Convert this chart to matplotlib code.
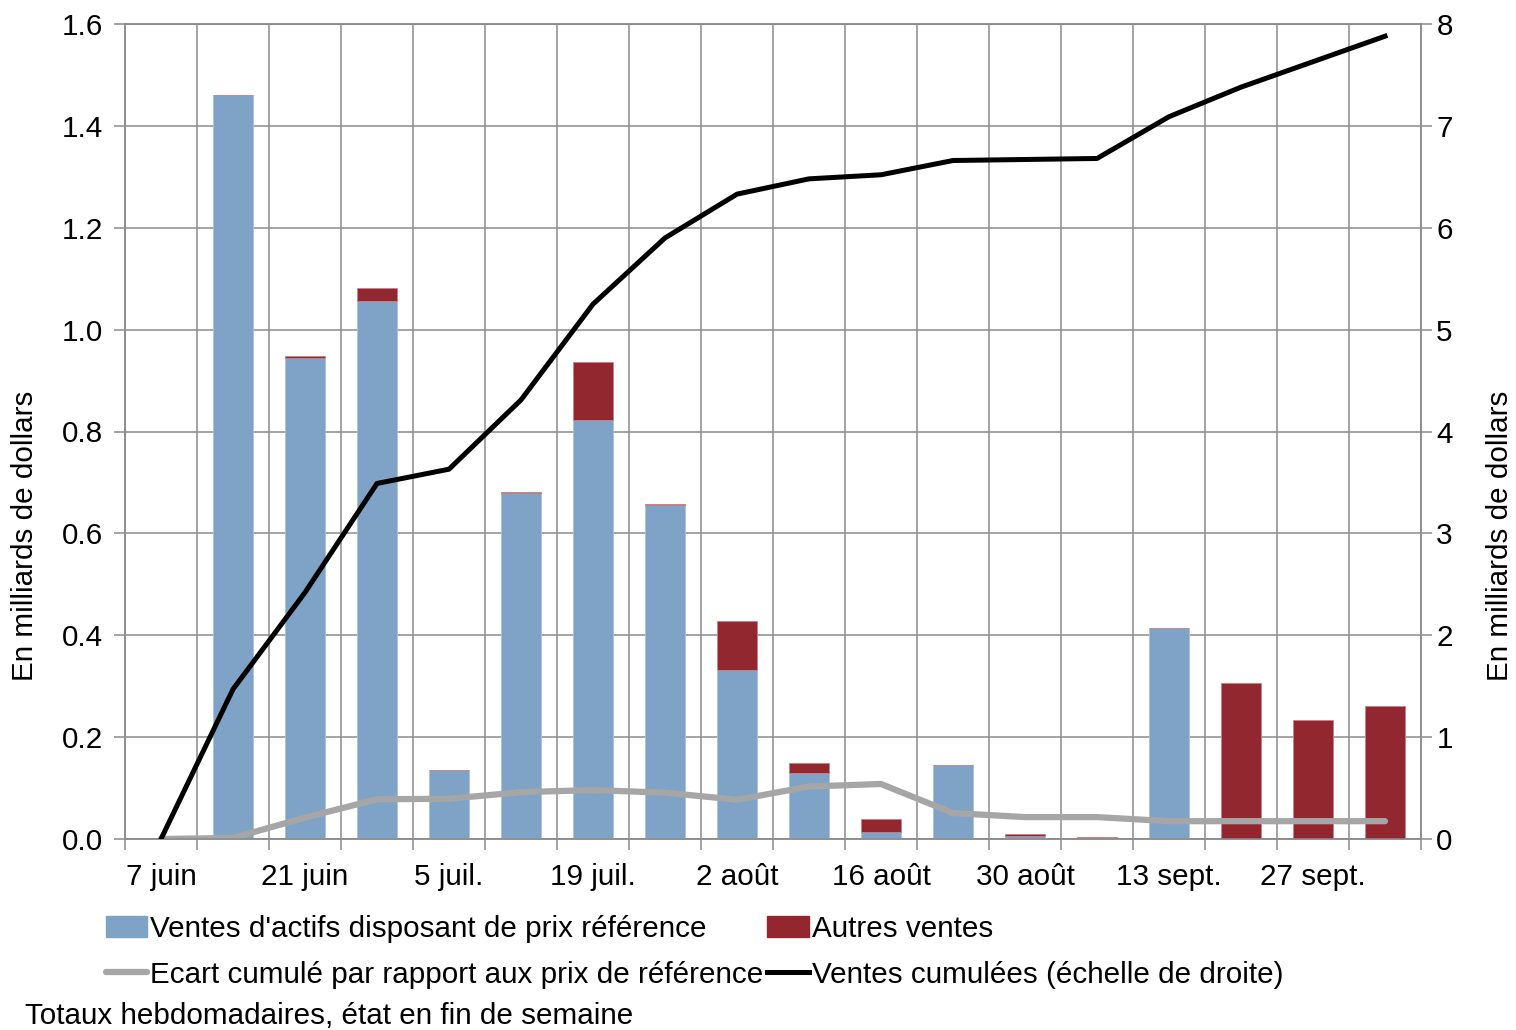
import matplotlib
matplotlib.use("Agg")
import matplotlib.pyplot as plt
from matplotlib.patches import Patch
from matplotlib.lines import Line2D
import numpy as np

plt.rcParams['font.family'] = ['Liberation Sans', 'DejaVu Sans']

weeks = ["7 juin", "14 juin", "21 juin", "28 juin", "5 juil.", "12 juil.", "19 juil.", "26 juil.",
         "2 août", "9 août", "16 août", "23 août", "30 août", "6 sept.", "13 sept.", "20 sept.",
         "27 sept.", "4 oct."]
ventes_ref = [0.0, 1.46, 0.945, 1.057, 0.135, 0.68, 0.822, 0.655, 0.331, 0.130, 0.013, 0.145,
              0.006, 0.001, 0.414, 0.0, 0.0, 0.0]
autres = [0.0, 0.0, 0.004, 0.025, 0.0, 0.002, 0.114, 0.002, 0.096, 0.019, 0.026, 0.0,
          0.003, 0.003, 0.0, 0.307, 0.234, 0.262]
ecart = [0.0, 0.002, 0.042, 0.078, 0.079, 0.092, 0.096, 0.091, 0.077, 0.103, 0.108, 0.051,
         0.043, 0.043, 0.035, 0.035, 0.035, 0.035]
cumul = [0.0, 1.47, 2.42, 3.49, 3.63, 4.31, 5.25, 5.90, 6.33, 6.48, 6.52, 6.66,
         6.67, 6.68, 7.09, 7.38, 7.63, 7.88]

blue = "#7EA3C6"
red = "#93272F"
gray_line = "#A6A6A6"
grid_c = "#8C8C8C"
fs = 21.3

fig = plt.figure(figsize=(15.16, 10.30), dpi=100)
ax = fig.add_axes([125/1516, 1 - 839/1030, (1421-125)/1516, (839-24)/1030])
ax2 = ax.twinx()

x = np.arange(len(weeks))
w = 0.55
ax.bar(x, ventes_ref, width=w, color=blue, zorder=3, edgecolor="#A9C2DB", linewidth=0.6)
ax.bar(x, autres, width=w, bottom=ventes_ref, color=red, zorder=3, edgecolor="#C98088", linewidth=0.6)
ax.plot(x, ecart, color=gray_line, lw=4.5, zorder=4, solid_capstyle='round')
ax2.plot(x, cumul, color="black", lw=3.6, zorder=5)

ax.set_xlim(-0.5, len(weeks) - 0.5)
ax.set_ylim(0, 1.6)
ax2.set_ylim(0, 8)
ax.set_yticks(np.arange(0, 1.61, 0.2))
ax.set_yticklabels([f"{v:.1f}" for v in np.arange(0, 1.61, 0.2)])
ax2.set_yticks(range(0, 9))

ax.set_xticks(x[::2])
ax.set_xticklabels(weeks[::2])
ax.set_xticks(np.arange(-0.5, len(weeks), 1), minor=True)
ax.tick_params(axis='x', which='major', length=0, labelsize=fs, pad=17, colors='black')
ax.tick_params(axis='x', which='minor', length=8, color=grid_c, width=1.1)
ax.tick_params(axis='y', length=8, color=grid_c, width=1.1, labelsize=fs, pad=8)
ax2.tick_params(axis='y', length=8, color=grid_c, width=1.1, labelsize=fs, pad=3)

ax.grid(True, which='major', axis='y', color=grid_c, lw=1.1, zorder=0)
ax.grid(True, which='minor', axis='x', color=grid_c, lw=1.1, zorder=0)
ax.set_axisbelow(True)
for a in (ax, ax2):
    for s in a.spines.values():
        s.set_color(grid_c)
        s.set_linewidth(1.1)

ax.set_ylabel("En milliards de dollars", fontsize=fs, va='center')
ax.yaxis.set_label_coords((25 - 125) / 1296, (839 - 536) / 815)
ax2.set_ylabel("En milliards de dollars", fontsize=fs, va='center', rotation=90)
ax2.yaxis.set_label_coords((1500 - 125) / 1296, (839 - 536) / 815)

handles = [Patch(color=blue), Line2D([], [], color=gray_line, lw=4.5, solid_capstyle='round'),
           Patch(color=red), Line2D([], [], color="black", lw=3.6)]
labels = ["Ventes d'actifs disposant de prix référence",
          "Ecart cumulé par rapport aux prix de référence",
          "Autres ventes", "Ventes cumulées (échelle de droite)"]
fig.legend(handles, labels, ncol=2, loc='upper left', bbox_to_anchor=(106/1516, 1 - 915/1030),
           frameon=False, fontsize=fs, handlelength=1.4, handletextpad=0.1,
           columnspacing=0.12, labelspacing=0.6, borderaxespad=0, borderpad=0)

fig.text(25/1516, 1 - 1016/1030, "Totaux hebdomadaires, état en fin de semaine",
         fontsize=fs, ha='left', va='center')

fig.savefig("out.png", dpi=100)
